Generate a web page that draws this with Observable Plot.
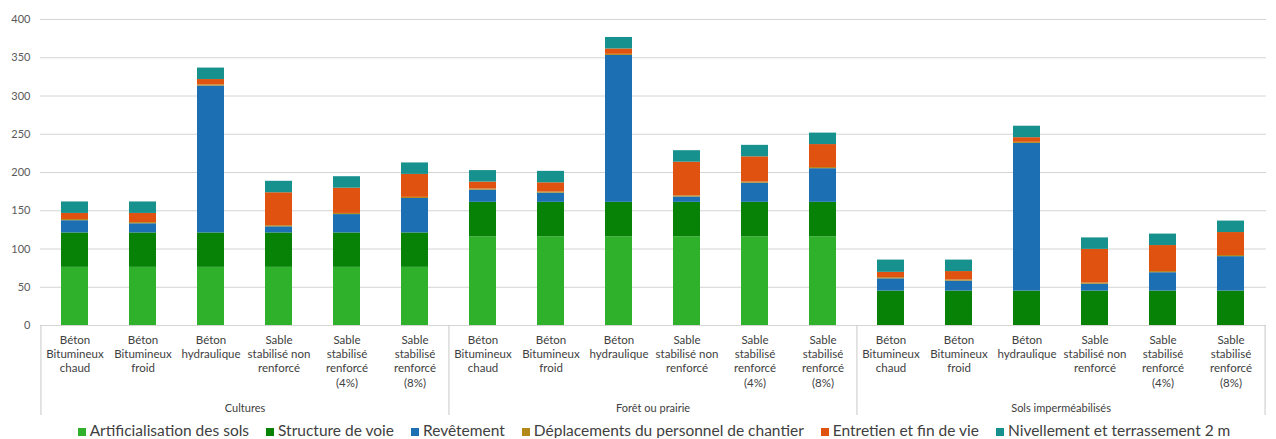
<!DOCTYPE html>
<html><head><meta charset="utf-8">
<script src="https://cdn.jsdelivr.net/npm/d3@7"></script>
<script src="https://cdn.jsdelivr.net/npm/@observablehq/plot@0.6"></script>
<style>
body{margin:0;background:#fff;font-family:Lato,"Liberation Sans",sans-serif;overflow:hidden;}
#legend{display:flex;justify-content:center;gap:17px;font-size:15.5px;color:#404040;line-height:15px;white-space:nowrap;margin-top:-1px;padding-left:32px;}
.sw{display:inline-block;width:8px;height:8px;margin-right:4px;}
</style></head><body><div id="chart"></div><div id="legend"></div>
<script>
const groups = ["Cultures", "Forêt ou prairie", "Sols imperméabilisés"];
const types = [
  "Béton\nBitumineux\nchaud",
  "Béton\nBitumineux\nfroid",
  "Béton\nhydraulique",
  "Sable\nstabilisé non\nrenforcé",
  "Sable\nstabilisé\nrenforcé\n(4%)",
  "Sable\nstabilisé\nrenforcé\n(8%)"
];
const series = [
  "Artificialisation des sols",
  "Structure de voie",
  "Revêtement",
  "Déplacements du personnel de chantier",
  "Entretien et fin de vie",
  "Nivellement et terrassement 2 m"
];
const colors = ["#2fb12c", "#078207", "#1c6fb3", "#b3891a", "#e0520f", "#16918e"];

// 18 bars: Cultures x6, Forêt ou prairie x6, Sols imperméabilisés x6
const artificialisation = [76,76,76,76,76,76, 116,116,116,116,116,116, 0,0,0,0,0,0];
const structure        = [45,45,45,45,45,45, 45,45,45,45,45,45, 45,45,45,45,45,45];
const revetement       = [16,12,192,8,24,45, 16,12,192,7,25,44, 16,13,193,9,24,45];
const deplacements     = [1.5,1.5,1.5,1.5,1.5,1.5, 1.5,1.5,1.5,1.5,1.5,1.5, 1.5,1.5,1.5,1.5,1.5,1.5];
const entretien        = [8,12,7,43,33,30, 9,12,7,44,33,30, 7,11,6,44,34,30];
const nivellement      = [15,15,15,15,15,15, 15,15,15,15,15,15, 16,15,15,15,15,15];
const yTicks = [0,50,100,150,200,250,300,350,400];

const seriesValues = [artificialisation, structure, revetement, deplacements, entretien, nivellement];
const key = (g, t) => g + "|" + t;
const keys = [];
const labels = [];
groups.forEach((g, gi) => types.forEach((t, ti) => { keys.push(key(gi, ti)); labels.push({key: key(gi, ti), text: t}); }));
const rows = [];
series.forEach((s, si) => keys.forEach((k, i) => rows.push({key: k, series: s, value: seriesValues[si][i]})));

const W = 1276, H = 424, ML = 40, MR = 10, MT = 19, MB = 99;
const step = (W - ML - MR) / keys.length;
const plotH = H - MT - MB;

const chart = Plot.plot({
  width: W, height: H, marginTop: MT, marginBottom: MB, marginLeft: ML, marginRight: MR,
  style: {fontFamily: "Lato, 'Liberation Sans', sans-serif", fontSize: "11px", color: "#595959", background: "white", overflow: "visible"},
  x: {type: "band", domain: keys, paddingInner: 0.6, paddingOuter: 0.3, axis: null},
  y: {domain: [0, 400], axis: null},
  color: {domain: series, range: colors},
  marks: [
    Plot.gridY(yTicks, {stroke: "#d4d4d4", strokeOpacity: 1, strokeWidth: 1}),
    Plot.axisY(yTicks, {tickSize: 0, tickPadding: 10, label: null, fontSize: 11, fill: "#595959"}),
    Plot.barY(rows, {x: "key", y: "value", fill: "series"}),
    Plot.ruleX(groups.map((g, gi) => key(gi, 0)), {x: d => d, dx: -step / 2, insetTop: plotH, insetBottom: -90, stroke: "#c8c8c8"}),
    Plot.ruleX([key(groups.length - 1, types.length - 1)], {x: d => d, dx: step / 2, insetTop: plotH, insetBottom: -90, stroke: "#c8c8c8"}),
    Plot.text(labels, {x: "key", y: () => 0, text: "text", lineAnchor: "top", dy: 8, lineHeight: 1.25, fontSize: 11.5, fill: "#404040"}),
    Plot.text(groups, {x: (g, gi) => key(gi, 2), y: () => 0, text: d => d, dx: step / 2, dy: 83, fontSize: 11, fill: "#404040"})
  ]
});
document.getElementById("chart").appendChild(chart);

const legend = document.getElementById("legend");
series.forEach((s, i) => {
  const item = document.createElement("span");
  const sw = document.createElement("i");
  sw.className = "sw";
  sw.style.background = colors[i];
  item.appendChild(sw);
  item.appendChild(document.createTextNode(s));
  legend.appendChild(item);
});
</script>
</body></html>
